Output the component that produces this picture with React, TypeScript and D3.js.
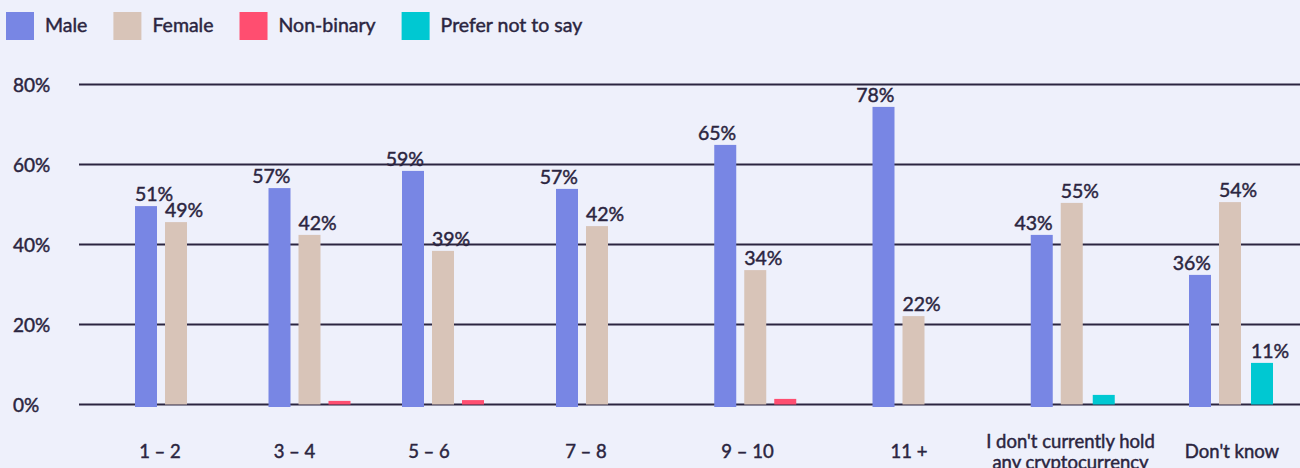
import React, { useEffect, useRef } from "react";
import * as d3 from "d3";

const categories = ["1 – 2", "3 – 4", "5 – 6", "7 – 8", "9 – 10", "11 +", "I don't currently hold\nany cryptocurrency", "Don't know"];
const seriesNames = ["Male", "Female", "Non-binary", "Prefer not to say"];
const maleValues = [49.6, 54.1, 58.4, 53.9, 64.9, 74.4, 42.4, 32.4];
const femaleValues = [45.6, 42.4, 38.4, 44.6, 33.6, 22.1, 50.4, 50.6];
const nonBinaryValues = [null, 0.9, 1.1, null, 1.4, null, null, null];
const preferValues = [null, null, null, null, null, null, 2.4, 10.4];
const maleLabels = ["51%", "57%", "59%", "57%", "65%", "78%", "43%", "36%"];
const femaleLabels = ["49%", "42%", "39%", "42%", "34%", "22%", "55%", "54%"];
const nonBinaryLabels = [null, null, null, null, null, null, null, null];
const preferLabels = [null, null, null, null, null, null, null, "11%"];
const yTicks = [0, 20, 40, 60, 80];

const COLORS = ["#7886e4", "#d8c4b8", "#ff4e70", "#00c8d2"];
const TEXT = "#2b2540";
const BG = "#eef0fb";
const FONT = "Lato, 'Noto Sans', sans-serif";

function styleText(sel: any, size: number) {
  return sel.attr("fill", TEXT).attr("font-family", FONT).attr("font-size", size)
    .attr("stroke", TEXT).attr("stroke-width", 0.45).attr("paint-order", "stroke");
}

export default function App() {
  const ref = useRef<SVGSVGElement | null>(null);

  useEffect(() => {
    document.body.style.margin = "0";
    document.body.style.background = BG;
    const svg = d3.select(ref.current);
    svg.selectAll("*").remove();
    const W = 1300, H = 468;

    svg.append("rect").attr("width", W).attr("height", H).attr("fill", BG);

    const y = d3.scaleLinear().domain([0, 80]).range([404.5, 84.5]);
    const xBar = d3.scaleLinear().domain([0, 2, 3, 7]).range([135, 402, 556, 1189]);
    const xLab = d3.scaleLinear().domain([0, 2, 3, 7]).range([160, 429, 586, 1232]);
    const slot = d3.scaleBand<number>().domain([0, 1, 2]).range([0, 82]).paddingInner(8 / 30).paddingOuter(0);
    const bw = slot.bandwidth();
    const slotOf = [0, 1, 2, 2];

    const grid = svg.append("g");
    yTicks.forEach((t) => {
      grid.append("line").attr("x1", 79).attr("x2", W).attr("y1", y(t)).attr("y2", y(t))
        .attr("stroke", TEXT).attr("stroke-width", 2);
      styleText(grid.append("text").attr("x", 13).attr("y", y(t) + 7), 19).text(`${t}%`);
    });

    const all = [maleValues, femaleValues, nonBinaryValues, preferValues];
    const labels = [maleLabels, femaleLabels, nonBinaryLabels, preferLabels];
    const bars = svg.append("g");
    const lbl = svg.append("g");
    all.forEach((vals, s) => {
      vals.forEach((v, i) => {
        if (v == null) return;
        const x0 = xBar(i) + (slot(slotOf[s]) as number) + (s === 3 ? 2 : 0);
        const ext = s === 0 ? 2.5 : 0;
        bars.append("rect").attr("x", x0).attr("width", bw)
          .attr("y", y(v)).attr("height", y(0) - y(v) + ext).attr("fill", COLORS[s]);
        const L = labels[s][i];
        if (L) {
          const endAnchor = s === 0 && i > 0;
          styleText(lbl.append("text")
            .attr("x", endAnchor ? x0 + bw : x0)
            .attr("y", y(v) - 5)
            .attr("text-anchor", endAnchor ? "end" : "start"), 19.5)
            .text(L);
        }
      });
    });

    const cat = svg.append("g");
    categories.forEach((c, i) => {
      const lines = c.split("\n");
      const lh = 21;
      const base = 458 - ((lines.length - 1) * lh) / 2;
      const t = styleText(cat.append("text").attr("text-anchor", "middle"), 18.5);
      lines.forEach((ln, k) => {
        t.append("tspan").attr("x", xLab(i)).attr("y", base + k * lh).text(ln);
      });
    });

    const leg = svg.append("g");
    let lx = 6;
    seriesNames.forEach((n, s) => {
      leg.append("rect").attr("x", lx).attr("y", 12).attr("width", 28).attr("height", 28).attr("fill", COLORS[s]);
      const t = styleText(leg.append("text").attr("x", lx + 39).attr("y", 32), 19.5).text(n);
      const w = (t.node() as SVGTextElement).getComputedTextLength();
      lx = lx + 39 + w + 26;
    });
  }, []);

  return <svg ref={ref} width={1300} height={468} style={{ display: "block" }} />;
}
